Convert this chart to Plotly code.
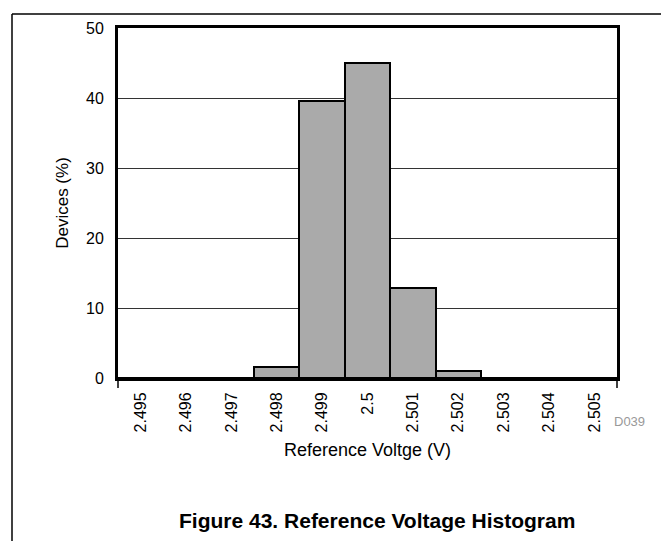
import plotly.graph_objects as go

categories = ["2.495", "2.496", "2.497", "2.498", "2.499", "2.5",
              "2.501", "2.502", "2.503", "2.504", "2.505"]
devices_pct = [0, 0, 0, 1.55, 39.6, 45.0, 12.9, 1.0, 0, 0, 0]
y_ticks = [0, 10, 20, 30, 40, 50]

W, H = 669, 541
L, R, T, B = 110, 60, 17, 171
pw, ph = W - L - R, H - T - B

def px(x):
    return (x - L) / pw

def py(y):
    return (H - B - y) / ph

fig = go.Figure(go.Bar(
    x=categories, y=devices_pct,
    marker=dict(color="#AAAAAA", line=dict(color="black", width=2)),
))

font = "Liberation Sans, Arial, sans-serif"
fig.update_layout(
    width=W, height=H,
    margin=dict(l=L, r=R, t=T, b=B),
    paper_bgcolor="white", plot_bgcolor="white",
    bargap=0, showlegend=False,
    font=dict(family=font, size=16, color="black"),
    xaxis=dict(
        type="category", tickangle=-90,
        showline=True, linewidth=3, linecolor="black", mirror=True,
        ticks="", showgrid=False,
        tickfont=dict(size=16), ticklabelstandoff=5,
        title=dict(text="Reference Voltge (V)", font=dict(size=18), standoff=12),
    ),
    yaxis=dict(
        range=[0, 50], tickvals=y_ticks,
        showline=True, linewidth=3, linecolor="black", mirror=True,
        ticks="", showgrid=True, gridcolor="#333333", gridwidth=1,
        zeroline=False, tickfont=dict(size=16), ticklabelstandoff=8,
        title=dict(text="Devices (%)", font=dict(size=17), standoff=14),
    ),
    shapes=[
        dict(type="line", xref="paper", yref="paper", x0=0, x1=0, y0=0, y1=py(380),
             line=dict(color="black", width=1.5)),
        dict(type="line", xref="paper", yref="paper", x0=1, x1=1, y0=0, y1=py(380),
             line=dict(color="black", width=1.5)),
        dict(type="line", xref="paper", yref="paper", x0=px(4), x1=px(669), y0=py(3), y1=py(3),
             line=dict(color="black", width=1.5)),
        dict(type="line", xref="paper", yref="paper", x0=px(4), x1=px(4), y0=py(3), y1=py(541),
             line=dict(color="black", width=1.5)),
    ],
    annotations=[
        dict(text="D039", xref="paper", yref="paper", x=px(621), y=py(414),
             xanchor="center", yanchor="middle",
             showarrow=False, font=dict(size=13, color="#999999")),
        dict(text="<b>Figure 43. Reference Voltage Histogram</b>", xref="paper", yref="paper",
             x=px(369), y=py(514), xanchor="center", yanchor="middle",
             showarrow=False, font=dict(size=21, color="black")),
    ],
)

fig.write_html("out.html")
